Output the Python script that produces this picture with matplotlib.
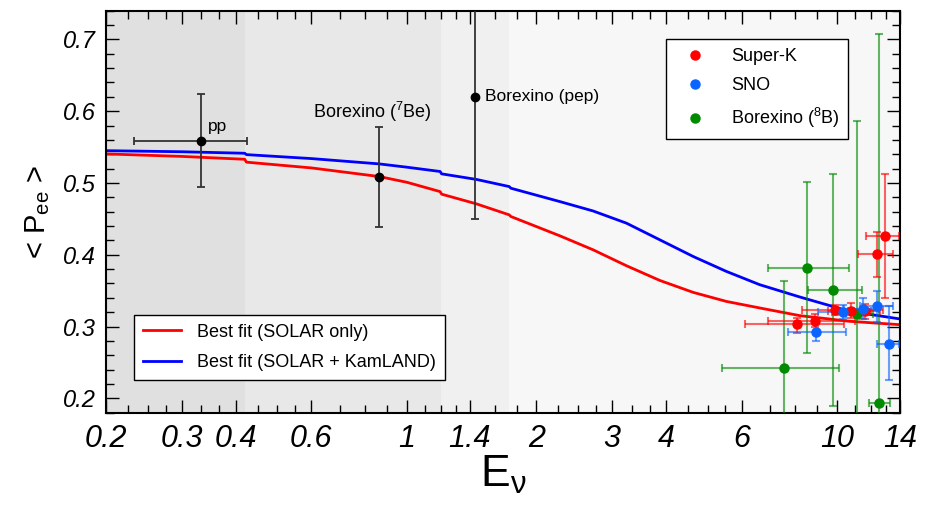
import numpy as np
import matplotlib
matplotlib.use("Agg")
import matplotlib.pyplot as plt
from matplotlib.lines import Line2D
from matplotlib.ticker import FixedLocator, NullFormatter

# ---- 字体设置 ----
plt.rcParams["font.family"] = ["Liberation Sans", "DejaVu Sans"]
plt.rcParams["mathtext.fontset"] = "custom"
plt.rcParams["mathtext.rm"] = "Liberation Sans"
plt.rcParams["mathtext.it"] = "Liberation Sans:italic"

# ---- 理论曲线 ----
E_fit = [0.2, 0.3, 0.42, 0.424, 0.6, 0.862, 1.0, 1.195, 1.205, 1.45, 1.73, 1.745,
         2.268, 2.71, 3.24, 3.87, 4.63, 5.53, 6.61, 8.19, 10.7, 14]
P_solar = [0.5405, 0.537, 0.533, 0.529, 0.521, 0.509, 0.501, 0.488, 0.4844, 0.471, 0.4556, 0.4533,
           0.4264, 0.4069, 0.3847, 0.3643, 0.3476, 0.335, 0.3259, 0.3152, 0.3073, 0.3026]
P_kamland = [0.545, 0.5435, 0.5414, 0.5395, 0.534, 0.5266, 0.522, 0.516, 0.5127, 0.505, 0.495, 0.4927,
             0.4741, 0.461, 0.444, 0.4209, 0.3976, 0.3768, 0.3583, 0.3412, 0.3212, 0.3106]

# ---- 低能 Borexino / pp 数据点 ----
low_E = [0.332, 0.862, 1.44]
low_P = [0.558, 0.509, 0.620]
low_P_lo = [0.495, 0.439, 0.450]
low_P_hi = [0.6235, 0.578, 0.800]
pp_E_lo, pp_E_hi = 0.232, 0.425
low_names = ["pp", "Borexino ($^{7}$Be)", "Borexino (pep)"]

# ---- Super-K ----
sk_E = [8.05, 8.9, 9.9, 10.8, 11.6, 12.4, 12.9]
sk_P = [0.303, 0.308, 0.323, 0.322, 0.321, 0.401, 0.426]
sk_E_lo = [6.1, 6.9, 8.3, 9.5, 10.6, 11.2, 11.7]
sk_E_hi = [10.4, 11.0, 12.8, 12.0, 12.6, 13.5, 13.9]
sk_P_lo = [0.291, 0.300, 0.316, 0.312, 0.310, 0.369, 0.340]
sk_P_hi = [0.312, 0.318, 0.330, 0.333, 0.332, 0.432, 0.513]

# ---- SNO ----
sno_E = [8.93, 10.3, 11.46, 12.41, 13.2]
sno_P = [0.292, 0.320, 0.3245, 0.328, 0.276]
sno_E_lo = [7.7, 9.05, 10.4, 11.3, 12.36]
sno_E_hi = [10.46, 11.1, 12.5, 13.5, 13.9]
sno_P_lo = [0.280, 0.310, 0.310, 0.307, 0.226]
sno_P_hi = [0.303, 0.330, 0.340, 0.349, 0.328]

# ---- Borexino 8B ----
bx_E = [7.52, 8.5, 9.76, 11.15, 12.52]
bx_P = [0.242, 0.381, 0.351, 0.3175, 0.194]
bx_E_lo = [5.39, 6.92, 8.54, 10.5, 11.87]
bx_E_hi = [10.1, 10.66, 11.43, 12.1, 13.3]
bx_P_lo = [0.10, 0.263, 0.189, 0.10, 0.10]
bx_P_hi = [0.364, 0.501, 0.513, 0.587, 0.707]

# 背景分区边界（pp, 13N, 15O 端点能量）
region_edges = [0.2, 0.42, 1.199, 1.732, 14]
region_colors = ["#e0e0e0", "#e8e8e8", "#f0f0f0", "#f7f7f7"]

x_major = [0.2, 0.3, 0.4, 0.6, 1, 1.4, 2, 3, 4, 6, 10, 14]
x_minor = [0.225, 0.25, 0.275, 0.333, 0.367, 0.45, 0.5, 0.55, 0.7, 0.8, 0.9,
           1.1, 1.2, 1.3, 1.6, 1.8, 2.25, 2.5, 2.75, 3.33, 3.67, 4.5, 5, 5.5,
           7, 8, 9, 11, 12, 13]


def err(v, lo, hi):
    v, lo, hi = np.array(v), np.array(lo), np.array(hi)
    return [v - lo, hi - v]


fig = plt.figure(figsize=(9.26, 5.09), dpi=100)
ax = fig.add_axes([0.1145, 0.1892, 0.8574, 0.7898])

for i in range(len(region_colors)):
    ax.axvspan(region_edges[i], region_edges[i + 1], color=region_colors[i], lw=0, zorder=0)

ax.plot(E_fit, P_solar, color="#ff0000", lw=2, zorder=2)
ax.plot(E_fit, P_kamland, color="#0000ff", lw=2, zorder=2)

# 彩色实验点
ekw = dict(fmt="o", ms=6.5, elinewidth=1.5, capsize=3, capthick=1.5, zorder=3)
for E, P, Elo, Ehi, Plo, Phi, c in [
        (bx_E, bx_P, bx_E_lo, bx_E_hi, bx_P_lo, bx_P_hi, "#008a00"),
        (sk_E, sk_P, sk_E_lo, sk_E_hi, sk_P_lo, sk_P_hi, "#ff0000"),
        (sno_E, sno_P, sno_E_lo, sno_E_hi, sno_P_lo, sno_P_hi, "#0a64ff")]:
    eb = ax.errorbar(E, P, xerr=err(E, Elo, Ehi), yerr=err(P, Plo, Phi), color=c, **ekw)
    for part in eb[1] + eb[2]:
        part.set_alpha(0.6)

# 黑色低能点
ax.errorbar(low_E[0], low_P[0], xerr=[[low_E[0] - pp_E_lo], [pp_E_hi - low_E[0]]],
            yerr=[[low_P[0] - low_P_lo[0]], [low_P_hi[0] - low_P[0]]],
            fmt="o", color="black", ecolor="#333333", ms=6, elinewidth=1.3,
            capsize=3, capthick=1.3, zorder=4)
ax.errorbar(low_E[1:], low_P[1:], yerr=err(low_P[1:], low_P_lo[1:], low_P_hi[1:]),
            fmt="o", color="black", ecolor="#333333", ms=6, elinewidth=1.3,
            capsize=3, capthick=1.3, zorder=4)

ax.text(0.345, 0.578, low_names[0], fontsize=12.5, ha="left", va="center")
ax.text(0.83, 0.599, low_names[1], fontsize=13, ha="center", va="center")
ax.text(1.518, 0.620, low_names[2], fontsize=12.5, ha="left", va="center")

ax.set_xscale("log")
ax.set_xlim(0.2, 14)
ax.set_ylim(0.18, 0.74)

ax.xaxis.set_major_locator(FixedLocator(x_major))
ax.set_xticklabels([f"{v:g}" for v in x_major])
ax.xaxis.set_minor_locator(FixedLocator(x_minor))
ax.xaxis.set_minor_formatter(NullFormatter())
ax.set_yticks(np.arange(0.2, 0.71, 0.1))
ax.set_yticklabels([f"{v:.1f}" for v in np.arange(0.2, 0.71, 0.1)])
ax.yaxis.set_minor_locator(FixedLocator(np.arange(0.18, 0.741, 0.02)))

ax.tick_params(which="both", direction="in", top=True, right=True, width=1)
ax.tick_params(which="major", length=9.5)
ax.tick_params(which="minor", length=5.5)
ax.tick_params(axis="x", which="major", labelsize=22, pad=8)
ax.tick_params(axis="y", which="major", labelsize=17, pad=7)
for lab in ax.get_xticklabels() + ax.get_yticklabels():
    lab.set_fontstyle("italic")
for sp in ax.spines.values():
    sp.set_linewidth(1.5)

ax.set_xlabel(r"E$_{\mathrm{ν}}$", fontsize=32, labelpad=0)
ax.set_ylabel(r"< P$_{\mathrm{ee}}$ >", fontsize=21, labelpad=8)

# 图例
h1 = [Line2D([], [], color="#ff0000", lw=2), Line2D([], [], color="#0000ff", lw=2)]
leg1 = ax.legend(h1, ["Best fit (SOLAR only)", "Best fit (SOLAR + KamLAND)"],
                 loc="lower left", bbox_to_anchor=(0.0356, 0.0806), borderaxespad=0,
                 fontsize=13, frameon=True, fancybox=False, edgecolor="black",
                 framealpha=1, handlelength=2.1, handletextpad=0.9, labelspacing=0.75,
                 borderpad=0.5)
leg1.get_frame().set_linewidth(1)
ax.add_artist(leg1)

h2 = [Line2D([], [], ls="", marker="o", ms=6.5, color=c) for c in ["#ff0000", "#0a64ff", "#008a00"]]
leg2 = ax.legend(h2, ["Super-K", "SNO", r"Borexino ($^{8}$B)"],
                 loc="upper left", bbox_to_anchor=(0.705, 0.929), borderaxespad=0,
                 fontsize=13, frameon=True, fancybox=False, edgecolor="black",
                 framealpha=1, handlelength=2.2, handletextpad=0.9, labelspacing=0.65,
                 borderpad=0.5)
leg2.get_frame().set_linewidth(1)

fig.savefig("out.png", dpi=100)
